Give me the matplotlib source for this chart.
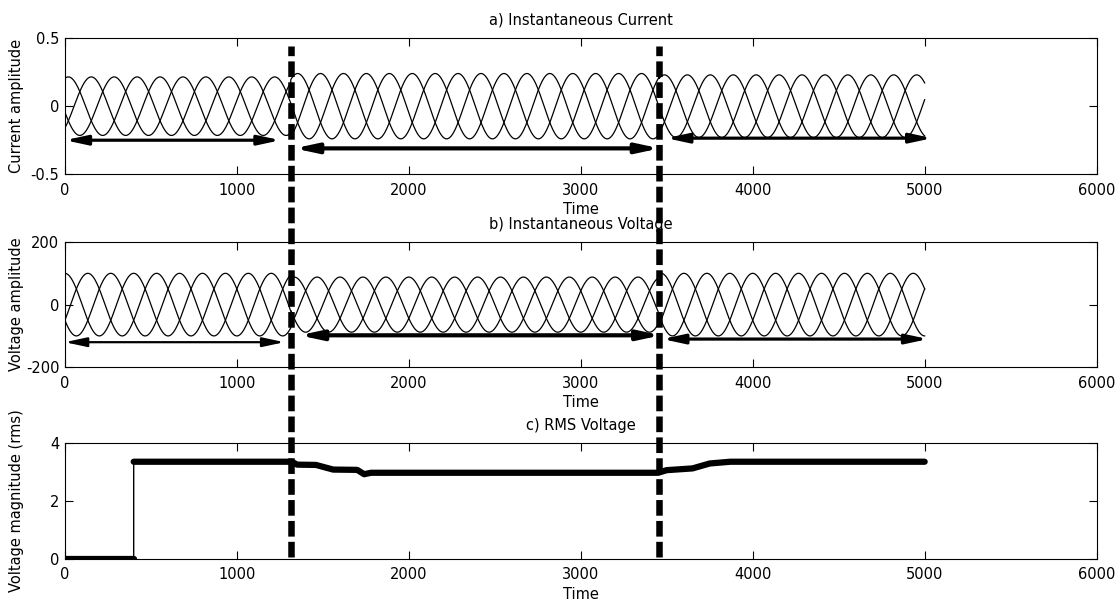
import numpy as np
import matplotlib
matplotlib.use('Agg')
import matplotlib.pyplot as plt

plt.rcParams['font.family'] = ['DejaVu Sans']
plt.rcParams['axes.unicode_minus'] = False

#### donnees ####
period = 400                      # echantillons par cycle
t_end = 5000
seg_edges = [0, 1314, 3456, 5001]  # debut / fin des zones (sag)
cur_amp = [0.215, 0.24, 0.23]
volt_amp = [100, 88, 100]
cur_lag = 20                      # retard du courant (echantillons)
volt_lag = 0

rms_t = [0, 400, 400, 1320, 1350, 1460, 1560, 1700, 1740, 1780,
         3450, 3500, 3650, 3750, 3870, 5000]
rms_v = [0, 0, 3.35, 3.35, 3.25, 3.24, 3.08, 3.07, 2.92, 2.97,
         2.97, 3.06, 3.12, 3.29, 3.35, 3.35]

event_t = [1314, 3456]

# fleches : (debut, fin, niveau, epaisseur)
cur_arrows = [(0, 1254, -0.25, 2.3), (1334, 3459, -0.31, 3.0), (3497, 5044, -0.235, 2.3)]
volt_arrows = [(0, 1276, -120, 1.6), (1363, 3467, -98, 3.0), (3474, 5020, -110, 2.3)]

xticks = [0, 1000, 2000, 3000, 4000, 5000, 6000]
cur_yticks = [-0.5, 0, 0.5]
cur_ylab = ['-0.5', '0', '0.5']
volt_yticks = [-200, 0, 200]
volt_ylab = ['-200', '0', '200']
rms_yticks = [0, 2, 4]
rms_ylab = ['0', '2', '4']


def three_phase(amps, lag):
    t = np.arange(0, t_end + 1)
    A = np.zeros(len(t))
    for k in range(len(amps)):
        m = (t >= seg_edges[k]) & (t < seg_edges[k + 1])
        A[m] = amps[k]
    w = 2 * np.pi * (t - lag) / period
    return t, [A * np.cos(w), A * np.cos(w - 2 * np.pi / 3), A * np.cos(w + 2 * np.pi / 3)]


def style(ax, yt, ylab, ylim, title, ylabel):
    ax.set_xlim(0, 6000)
    ax.set_ylim(*ylim)
    ax.set_xticks(xticks)
    ax.set_xticklabels([str(x) for x in xticks])
    ax.set_yticks(yt)
    ax.set_yticklabels(ylab)
    ax.tick_params(direction='in', top=True, right=True, length=5.5, width=0.8,
                   labelsize=10.5)
    ax.tick_params(axis='x', pad=6)
    ax.tick_params(axis='y', pad=4)
    for s in ax.spines.values():
        s.set_linewidth(0.8)
    ax.set_title(title, fontsize=10.5, pad=9.5)
    ax.set_xlabel('Time', fontsize=10.5, labelpad=3)
    ax.set_ylabel(ylabel, fontsize=10.5)
    ax.yaxis.set_label_coords(-0.04, 0.5)


def arrows(ax, lst):
    for x0, x1, y, lw in lst:
        ax.annotate('', xy=(x1, y), xytext=(x0, y),
                    arrowprops=dict(arrowstyle='<|-|>,head_length=1.3,head_width=0.28',
                                    lw=lw, color='k', shrinkA=0, shrinkB=0,
                                    mutation_scale=10))


fig = plt.figure(figsize=(11.19, 6.05), dpi=100)
L, W = 0.058, 0.922
ax1 = fig.add_axes([L, 0.712, W, 0.225])
ax2 = fig.add_axes([L, 0.393, W, 0.207])
ax3 = fig.add_axes([L, 0.076, W, 0.192])

#### a) courant ####
t, ph = three_phase(cur_amp, cur_lag)
for y in ph:
    ax1.plot(t, y, 'k-', lw=0.9)
arrows(ax1, cur_arrows)
style(ax1, cur_yticks, cur_ylab, (-0.5, 0.5), 'a) Instantaneous Current', 'Current amplitude')

#### b) tension ####
t, ph = three_phase(volt_amp, volt_lag)
for y in ph:
    ax2.plot(t, y, 'k-', lw=0.9)
arrows(ax2, volt_arrows)
style(ax2, volt_yticks, volt_ylab, (-200, 200), 'b) Instantaneous Voltage', 'Voltage amplitude')

#### c) tension efficace ####
ax3.plot(rms_t, rms_v, 'k-', lw=1)
ax3.plot(rms_t[:2], rms_v[:2], 'k-', lw=4.5, solid_capstyle='round')
ax3.plot(rms_t[2:], rms_v[2:], 'k-', lw=4.5, solid_capstyle='round', solid_joinstyle='round')
style(ax3, rms_yticks, rms_ylab, (0, 4), 'c) RMS Voltage', 'Voltage magnitude (rms)')

#### traits verticaux en pointilles ####
ov = fig.add_axes([L, 0, W, 1])
ov.set_xlim(0, 6000)
ov.set_ylim(0, 1)
ov.axis('off')
ov.patch.set_alpha(0)
for te in event_t:
    ov.plot([te, te], [0.079, 0.924], 'k', lw=4.7, dashes=(2.4, 0.8),
            solid_capstyle='butt', dash_capstyle='butt')

fig.savefig('out.png', dpi=100)
